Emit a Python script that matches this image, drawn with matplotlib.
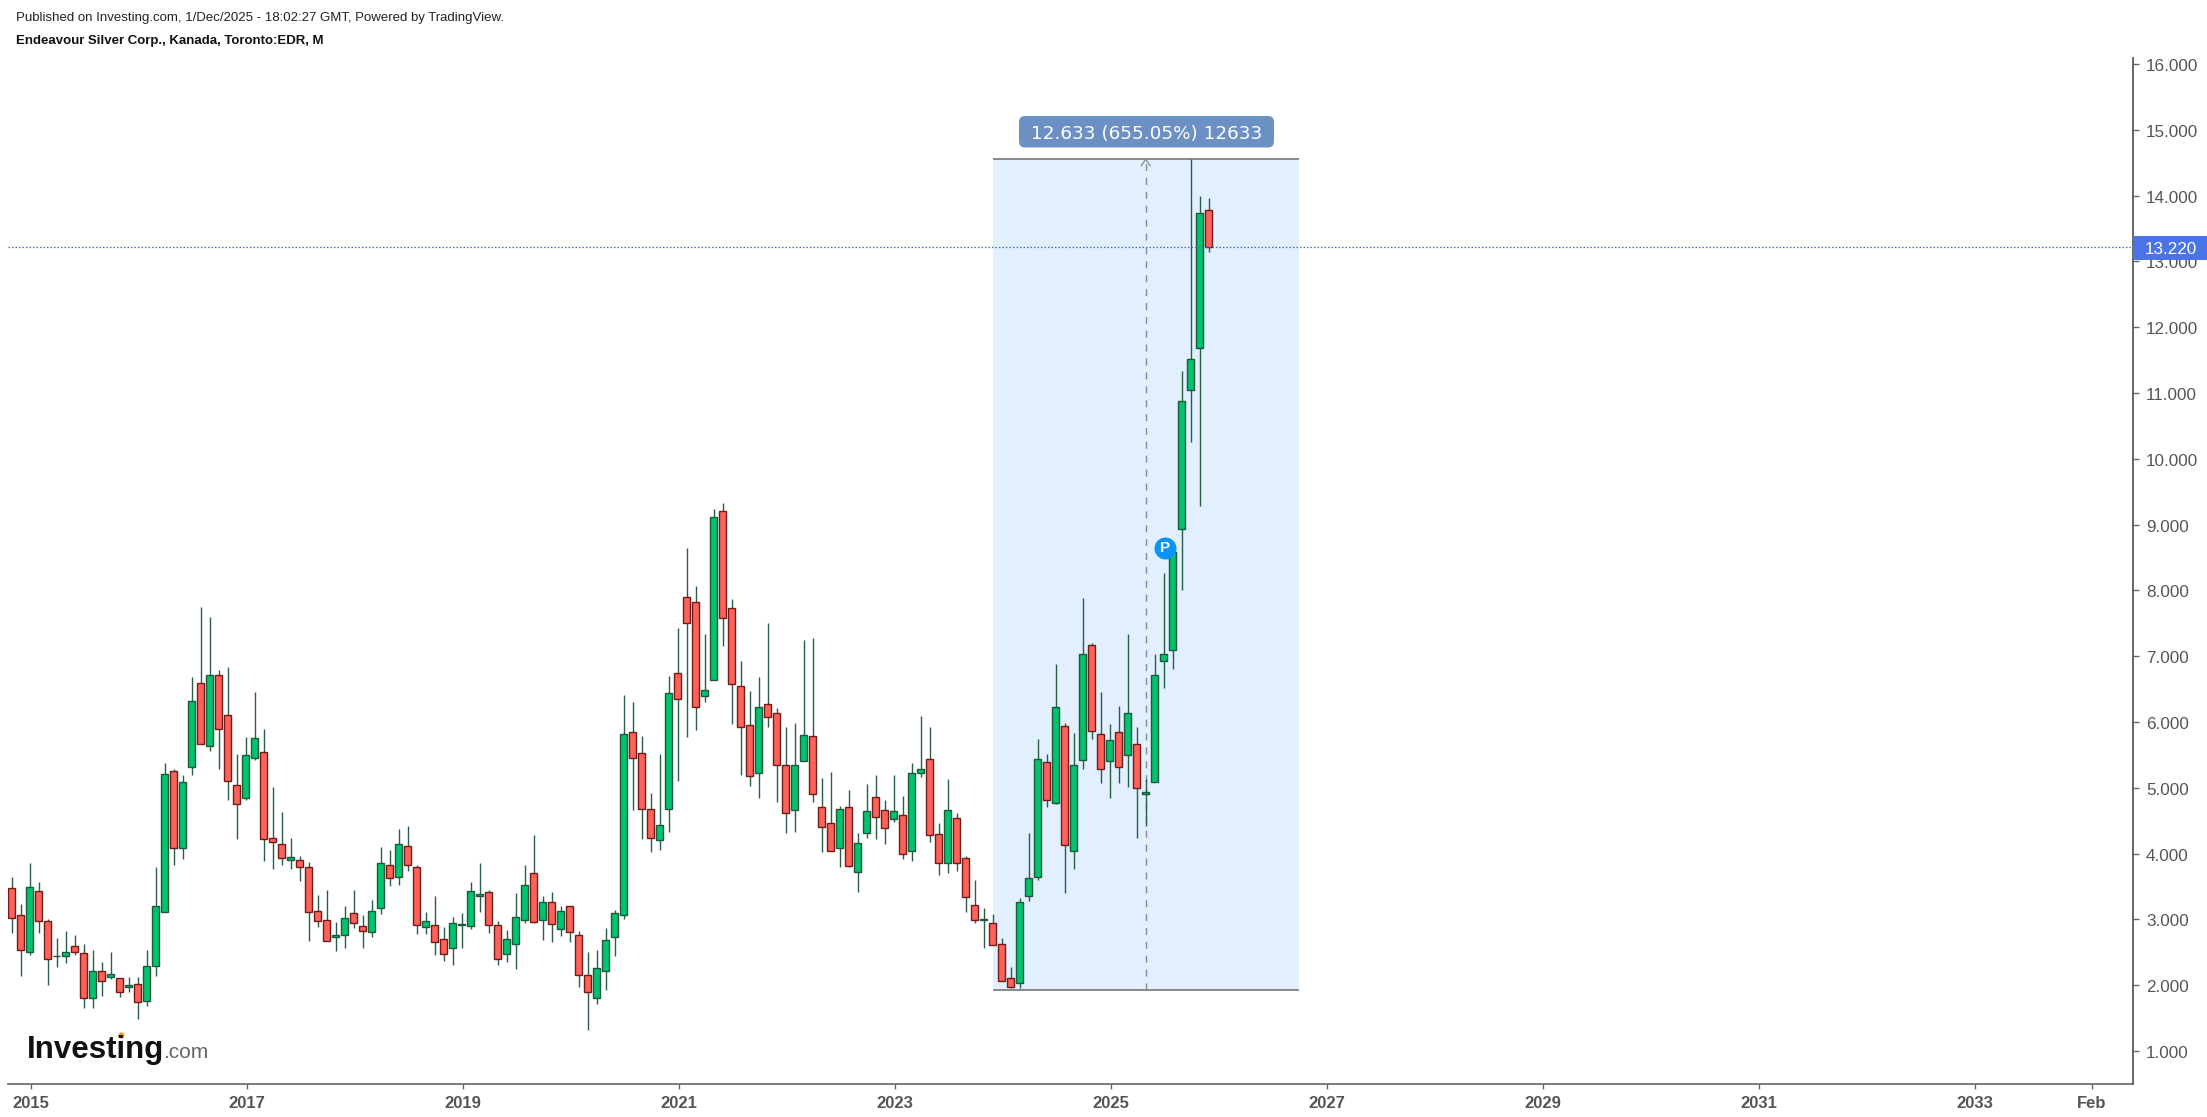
# Endeavour Silver monthly candles, Investing.com / TradingView look.
import matplotlib

matplotlib.use("Agg")
import matplotlib.pyplot as plt
import numpy as np
from matplotlib.patches import FancyBboxPatch, Rectangle
from matplotlib.transforms import Affine2D, IdentityTransform

plt.rcParams["font.family"] = ["Liberation Sans", "DejaVu Sans"]

# monthly bars, first one is Nov 2014, last one is Dec 2025
opens = [
    3.48, 3.07, 2.51, 3.43, 2.98, 2.44, 2.44, 2.59, 2.49, 1.81,
    2.22, 2.13, 2.11, 1.98, 2.02, 1.76, 2.29, 3.11, 5.25, 4.08,
    5.32, 6.60, 5.64, 6.71, 6.10, 5.05, 4.84, 5.46, 5.55, 4.23,
    4.14, 3.91, 3.91, 3.80, 3.13, 2.99, 2.74, 2.77, 3.09, 2.90,
    2.81, 3.18, 3.82, 3.65, 4.12, 3.80, 2.88, 2.92, 2.70, 2.56,
    2.92, 2.90, 3.36, 3.41, 2.92, 2.47, 2.63, 2.99, 3.71, 2.99,
    3.27, 2.86, 3.20, 2.77, 2.15, 1.81, 2.21, 2.74, 3.06, 5.85,
    5.53, 4.68, 4.20, 4.68, 6.74, 7.90, 7.83, 6.39, 6.64, 9.20,
    7.73, 6.55, 5.96, 5.23, 6.28, 6.14, 5.35, 4.66, 5.41, 5.78,
    4.71, 4.46, 4.09, 4.71, 3.72, 4.32, 4.86, 4.66, 4.52, 4.59,
    4.04, 5.23, 5.44, 4.30, 3.86, 4.54, 3.93, 3.22, 2.99, 2.95,
    2.63, 2.11, 2.04, 3.36, 3.65, 5.39, 4.77, 5.94, 4.04, 5.43,
    7.17, 5.82, 5.41, 5.85, 5.50, 5.67, 4.91, 5.09, 6.92, 7.10,
    8.94, 11.04, 11.68, 13.78,
]
closes = [
    3.02, 2.53, 3.50, 2.97, 2.40, 2.45, 2.51, 2.51, 1.81, 2.22,
    2.06, 2.17, 1.90, 2.00, 1.74, 2.29, 3.20, 5.21, 4.08, 5.09,
    6.32, 5.66, 6.71, 5.89, 5.11, 4.75, 5.50, 5.76, 4.22, 4.18,
    3.93, 3.95, 3.79, 3.11, 2.97, 2.67, 2.77, 3.02, 2.95, 2.83,
    3.13, 3.86, 3.63, 4.14, 3.82, 2.92, 2.98, 2.65, 2.47, 2.95,
    2.93, 3.43, 3.39, 2.92, 2.40, 2.70, 3.04, 3.52, 2.96, 3.27,
    2.93, 3.13, 2.81, 2.15, 1.90, 2.26, 2.68, 3.09, 5.82, 5.46,
    4.68, 4.23, 4.44, 6.44, 6.35, 7.51, 6.23, 6.49, 9.11, 7.58,
    6.57, 5.93, 5.18, 6.23, 6.07, 5.34, 4.61, 5.35, 5.80, 4.91,
    4.41, 4.04, 4.68, 3.81, 4.16, 4.64, 4.55, 4.39, 4.64, 4.00,
    5.23, 5.28, 4.29, 3.86, 4.66, 3.86, 3.34, 2.99, 3.00, 2.61,
    2.06, 1.97, 3.27, 3.63, 5.44, 4.82, 6.23, 4.13, 5.35, 7.03,
    5.86, 5.28, 5.73, 5.32, 6.14, 5.00, 4.94, 6.71, 7.03, 8.59,
    10.88, 11.52, 13.74, 13.22,
]
highs = [
    3.64, 3.23, 3.85, 3.57, 3.00, 2.71, 2.82, 2.76, 2.62, 2.54,
    2.35, 2.50, 2.11, 2.12, 2.12, 2.54, 3.80, 5.37, 5.28, 5.19,
    6.68, 7.75, 7.59, 6.79, 6.83, 5.51, 5.77, 6.45, 5.90, 5.01,
    4.63, 4.23, 3.96, 3.87, 3.37, 3.44, 2.96, 3.21, 3.44, 3.07,
    3.30, 4.10, 4.05, 4.37, 4.42, 3.82, 3.12, 3.35, 2.89, 3.04,
    3.09, 3.57, 3.85, 3.44, 2.98, 2.84, 3.40, 3.83, 4.28, 3.35,
    3.41, 3.21, 3.21, 2.82, 2.50, 2.53, 2.87, 3.14, 6.41, 6.31,
    5.79, 4.92, 5.51, 6.70, 7.43, 8.64, 8.07, 7.33, 9.23, 9.33,
    7.87, 6.93, 6.47, 6.68, 7.50, 6.22, 5.92, 5.99, 7.25, 7.27,
    5.15, 5.24, 4.73, 4.96, 4.31, 5.06, 5.19, 4.81, 5.19, 4.87,
    5.37, 6.09, 5.92, 4.46, 5.13, 4.62, 3.96, 3.60, 3.17, 3.08,
    2.71, 2.27, 3.32, 4.31, 5.74, 5.51, 6.88, 5.99, 5.83, 7.88,
    7.20, 6.45, 5.97, 6.24, 7.34, 5.92, 5.14, 7.03, 8.27, 8.65,
    11.33, 14.55, 13.99, 13.97,
]
lows = [
    2.79, 2.14, 2.46, 2.79, 2.01, 2.28, 2.33, 2.46, 1.66, 1.66,
    1.84, 2.10, 1.82, 1.89, 1.48, 1.69, 2.14, 3.11, 3.83, 3.92,
    5.20, 5.66, 5.56, 5.29, 4.81, 4.22, 4.81, 5.43, 3.88, 3.76,
    3.83, 3.76, 3.58, 2.67, 2.89, 2.67, 2.52, 2.57, 2.87, 2.56,
    2.74, 3.08, 3.51, 3.53, 3.74, 2.78, 2.78, 2.46, 2.37, 2.30,
    2.56, 2.85, 3.12, 2.80, 2.30, 2.35, 2.24, 2.94, 2.94, 2.69,
    2.65, 2.75, 2.65, 1.97, 1.32, 1.71, 1.92, 2.44, 3.01, 4.67,
    4.22, 4.02, 4.06, 4.33, 5.11, 5.77, 5.88, 6.31, 6.64, 7.16,
    5.97, 5.19, 5.03, 4.84, 5.93, 4.79, 4.31, 4.33, 5.41, 4.79,
    4.02, 4.04, 3.79, 3.79, 3.42, 4.24, 4.22, 4.15, 4.48, 3.92,
    3.88, 5.17, 4.17, 3.67, 3.70, 3.74, 3.12, 2.94, 2.56, 2.61,
    2.06, 1.95, 1.95, 3.28, 3.60, 4.71, 4.76, 3.40, 3.76, 5.29,
    5.74, 5.08, 4.85, 5.08, 5.01, 4.24, 4.42, 5.09, 6.52, 6.80,
    8.00, 10.26, 9.28, 13.14,
]

price_ticks = [1, 2, 3, 4, 5, 6, 7, 8, 9, 10, 11, 12, 13, 14, 15, 16]
year_labels = ["2015", "2017", "2019", "2021", "2023", "2025", "2027", "2029", "2031", "2033", "Feb"]
year_bars = [2, 26, 50, 74, 98, 122, 146, 170, 194, 218, 231]

last_price = 13.22
range_low, range_high = 1.92, 14.553
range_start, range_end, range_mid = 109, 143, 126
range_label = "12.633 (655.05%) 12633"

W, H = 2207, 1117
GREEN, RED = "#00c36e", "#ff6259"
GREEN_EDGE, RED_EDGE = "#1c5a3c", "#701c1c"
WICK = "#2a5e44"
AXIS = "#666666"
LABEL = "#555555"
BLUE = "#4a74e6"

fig = plt.figure(figsize=(W / 100, H / 100), dpi=100)
ax = fig.add_axes([8 / W, 1 - 1084 / H, 2125 / W, 1026 / H])


def fx(px):
    return px / W


def fy(py):
    return 1 - py / H


o = np.array(opens)
c = np.array(closes)
x = np.arange(len(o))
up = c >= o

# measuring tool
ax.add_patch(
    Rectangle(
        (range_start, range_low),
        range_end - range_start,
        range_high - range_low,
        fc="#e1effe",
        ec="none",
        zorder=1,
    )
)
ax.hlines([range_low, range_high], range_start, range_end, color="#777777", lw=1.2, zorder=1.5)
ax.vlines(range_mid, range_low, range_high, color="#8a8a8a", lw=1.0, ls=(0, (5, 5)), zorder=1.5)
ax.plot(
    [range_mid - 0.5, range_mid, range_mid + 0.5],
    [range_high - 0.1, range_high, range_high - 0.1],
    color="#8a8a8a",
    lw=0.9,
    zorder=1.5,
)
# label box is placed in pixels, origin at the bottom left
ax.add_patch(
    FancyBboxPatch(
        (1025, H - 141.5),
        243,
        19.5,
        boxstyle="round,pad=6,rounding_size=6",
        transform=IdentityTransform(),
        fc="#6c90c4",
        ec="none",
        clip_on=False,
        zorder=5,
    )
)
ax.text(
    range_mid + 0.1,
    14.94,
    range_label,
    family="DejaVu Sans",
    size=13.2,
    color="white",
    ha="center",
    va="center",
    zorder=6,
)

# candles
ax.vlines(x, lows, highs, color=WICK, lw=1.0, zorder=2)
ax.bar(x[up], (c - o)[up], bottom=o[up], width=0.72, color=GREEN, edgecolor=GREEN_EDGE, lw=1.0, zorder=3)
ax.bar(x[~up], (c - o)[~up], bottom=o[~up], width=0.72, color=RED, edgecolor=RED_EDGE, lw=1.0, zorder=3)

# last price line and its tag
ax.axhline(last_price, color="#3f6ae0", lw=0.9, ls=(0, (1.2, 1.6)), zorder=4)
tr = ax.get_yaxis_transform()
ax.add_patch(
    Rectangle((1, 13.02), 74 / 2125, 0.36, transform=tr, fc=BLUE, ec="none", clip_on=False, zorder=5)
)
ax.text(1.0056, last_price - 0.035, "13.220", transform=tr, size=12.3, color="white", va="center", zorder=6)

# position marker
ax.plot(128.1, 8.65, "o", ms=15.8, color="#0a94f5", mec="none", zorder=5)
ax.text(128.1, 8.64, "P", size=11, weight="bold", color="white", ha="center", va="center", zorder=6)

ax.set_xlim((8 - 11.7) / 9, (2133 - 11.7) / 9)
ax.set_ylim(16 - 1020 / 65.8, 16 + 6 / 65.8)

ax.yaxis.tick_right()
ax.set_yticks(price_ticks, [f"{t}.000" for t in price_ticks])
ax.set_xticks(np.array(year_bars) + 0.14, year_labels)
ax.tick_params(axis="y", length=4.3, width=1, color=AXIS, labelcolor=LABEL, labelsize=12.3, pad=5)
ax.tick_params(axis="x", length=3.6, width=1, color=AXIS, labelcolor=LABEL, labelsize=12, pad=5)
for lab in ax.get_xticklabels():
    lab.set_fontweight("bold")
for lab in ax.get_yticklabels():
    lab.set_transform(lab.get_transform() + Affine2D().translate(0, -1))
for side in ("top", "left"):
    ax.spines[side].set_visible(False)
ax.spines["bottom"].set_color(AXIS)
ax.spines["right"].set_color(AXIS)
ax.spines["bottom"].set_linewidth(1.2)
ax.spines["right"].set_linewidth(1.4)

# header
fig.text(fx(16), fy(18), "Published on Investing.com, 1/Dec/2025 - 18:02:27 GMT, Powered by TradingView.",
         size=9.5, color="#222222", va="center")
fig.text(fx(16), fy(41), "Endeavour Silver Corp., Kanada, Toronto:EDR, M",
         size=9.5, weight="bold", color="#111111", va="center")

# logo
fig.text(fx(27), fy(1058), "Investing", size=22.5, weight="bold", color="#111111", va="baseline")
fig.text(fx(163), fy(1058), ".com", size=15, color="#666666", va="baseline")
fig.add_artist(plt.Line2D([fx(121)], [fy(1035)], marker="o", ms=4.5, color="#f7a11a", mec="none"))

fig.savefig("out.png", dpi=100)
